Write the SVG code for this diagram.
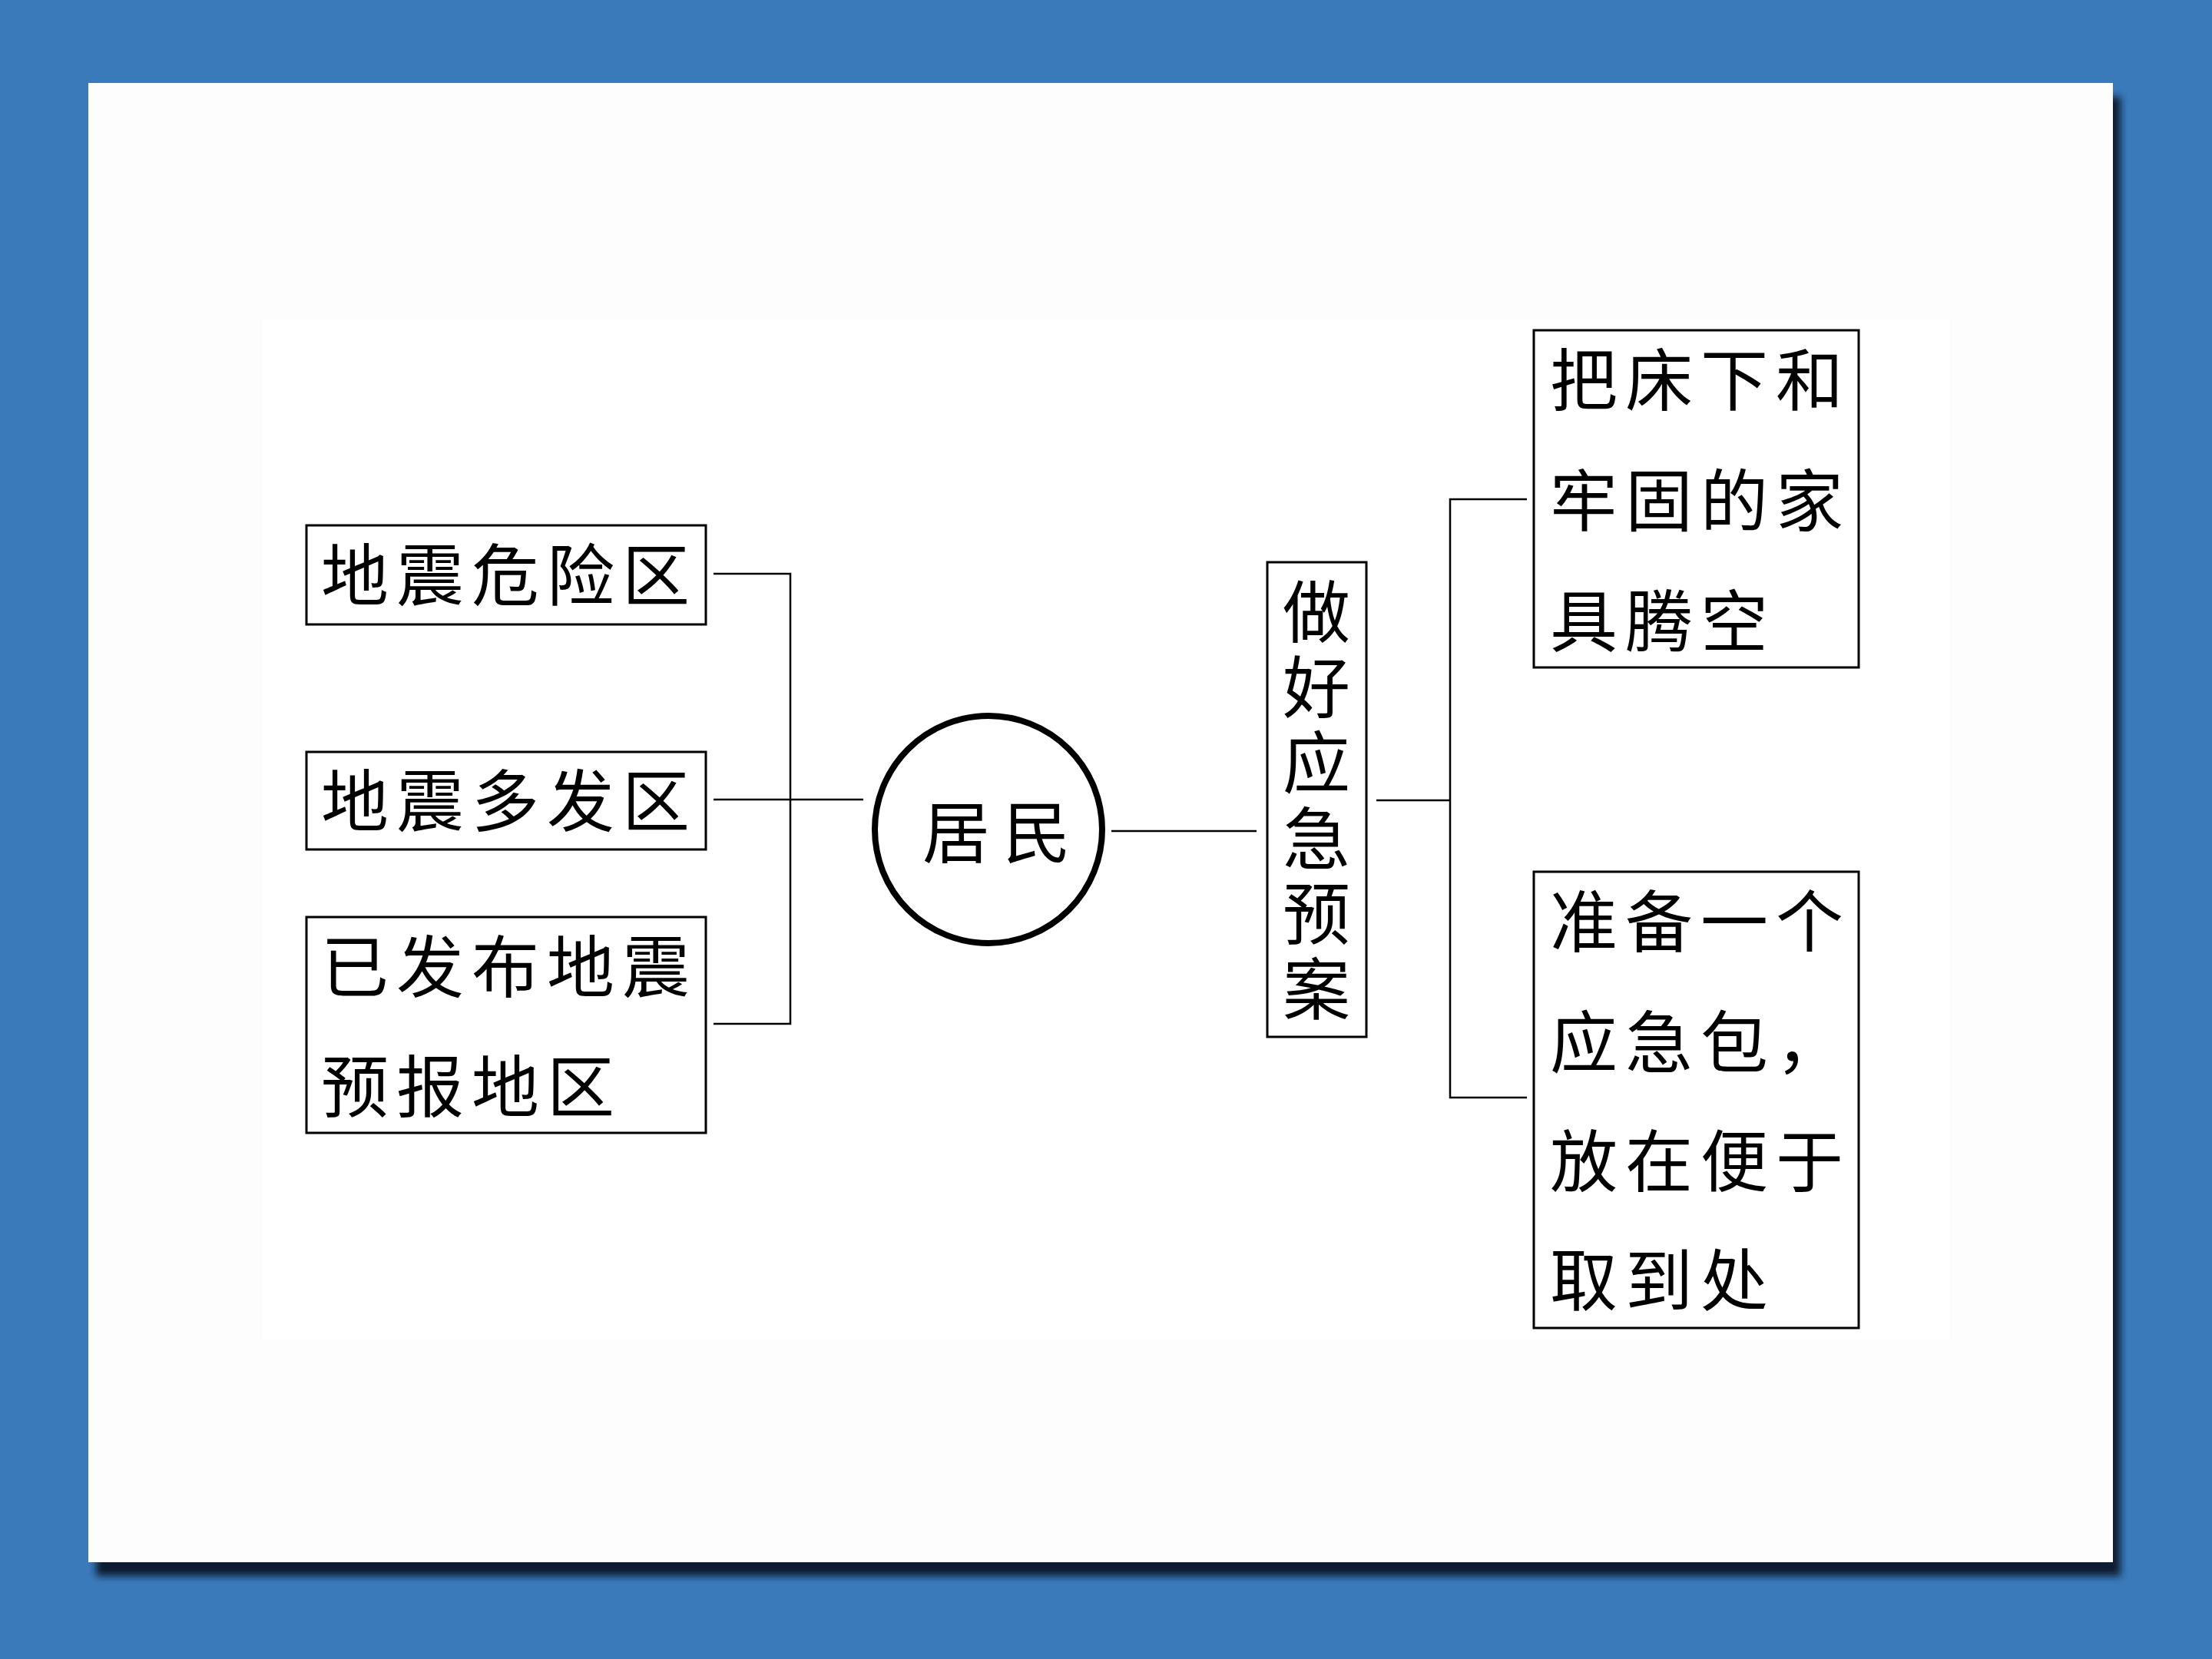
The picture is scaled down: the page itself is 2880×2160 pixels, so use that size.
<svg xmlns="http://www.w3.org/2000/svg" width="2880" height="2160" viewBox="0 0 2880 2160">
<style>
.box{fill:#ffffff;stroke:#000000;stroke-width:3}
.t{font-family:"Noto Sans CJK SC","Noto Sans CJK JP",sans-serif;font-size:88px;fill:#000000;letter-spacing:10px}
.v{font-family:"Noto Sans CJK SC","Noto Sans CJK JP",sans-serif;font-size:88px;fill:#000000}
.conn{fill:none;stroke:#000000;stroke-width:2.5}
</style>
<defs>
<filter id="sh" x="-5%" y="-5%" width="110%" height="110%">
<feGaussianBlur stdDeviation="5"/>
</filter>
</defs>
<rect x="0" y="0" width="2880" height="2160" fill="#3a7aba"/>
<g id="panel">
<rect x="125" y="126" width="2636" height="1926" fill="#0f1e33" filter="url(#sh)"/>
<rect x="115" y="108" width="2636" height="1926" fill="#fdfdfd"/>
<rect x="343" y="415" width="2194" height="1329" fill="#ffffff"/>
</g>
<g id="connectors">
<path class="conn" d="M929,747 H1029 V1333 H929"/>
<path class="conn" d="M929,1041 H1124"/>
<path class="conn" d="M1447,1082 H1636"/>
<path class="conn" d="M1792,1042 H1888"/>
<path class="conn" d="M1988,650 H1888 V1429 H1988"/>
</g>
<g id="node-danger">
<rect class="box" x="399" y="684" width="520" height="129"/>
<text class="t" x="418" y="781">地震危险区</text>
</g>
<g id="node-frequent">
<rect class="box" x="399" y="979" width="520" height="127"/>
<text class="t" x="418" y="1075">地震多发区</text>
</g>
<g id="node-forecast">
<rect class="box" x="399" y="1194" width="520" height="281"/>
<text class="t" x="418" y="1291">已发布地震</text>
<text class="t" x="418" y="1447">预报地区</text>
</g>
<g id="node-residents">
<circle cx="1287" cy="1080" r="148" fill="#ffffff" stroke="#000000" stroke-width="8"/>
<text class="t" x="1201" y="1116" style="letter-spacing:17px">居民</text>
</g>
<g id="node-plan">
<rect class="box" x="1650" y="732" width="129" height="618"/>
<text class="v" x="1670" y="829">做</text>
<text class="v" x="1670" y="927">好</text>
<text class="v" x="1670" y="1025">应</text>
<text class="v" x="1670" y="1124">急</text>
<text class="v" x="1670" y="1222">预</text>
<text class="v" x="1670" y="1320">案</text>
</g>
<g id="node-furniture">
<rect class="box" x="1997" y="430" width="423" height="439"/>
<text class="t" x="2018" y="527">把床下和</text>
<text class="t" x="2018" y="684">牢固的家</text>
<text class="t" x="2018" y="841">具腾空</text>
</g>
<g id="node-kit">
<rect class="box" x="1997" y="1135" width="423" height="594"/>
<text class="t" x="2018" y="1232">准备一个</text>
<text class="t" x="2018" y="1389">应急包，</text>
<text class="t" x="2018" y="1544">放在便于</text>
<text class="t" x="2018" y="1699">取到处</text>
</g>
</svg>
